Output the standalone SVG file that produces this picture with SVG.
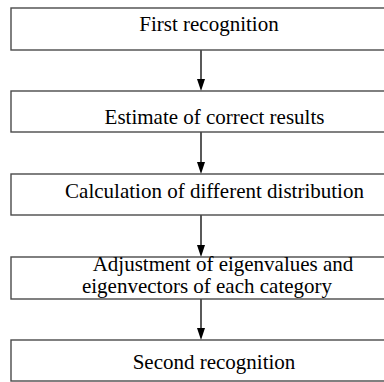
<svg xmlns="http://www.w3.org/2000/svg" width="384" height="382" viewBox="0 0 384 382">
<defs>
<style>
.box{fill:#fff;stroke:#4a4a4a;stroke-width:1.4}
.t{font-family:"Liberation Serif","Times New Roman",serif;font-size:21px;fill:#000;text-anchor:middle}
.c{stroke:#000;stroke-width:1.3;fill:none}
</style>
<marker id="ah" markerWidth="8" markerHeight="12" refX="4" refY="12" orient="auto-start-reverse" markerUnits="userSpaceOnUse" viewBox="0 0 8 12">
<path d="M0,0 L8,0 L4,12 Z" fill="#000" transform="rotate(0)"/>
</marker>
</defs>
<rect width="384" height="382" fill="#fff"/>
<g id="connectors">
<line class="c" x1="201" y1="50" x2="201" y2="79"/><path d="M197,79 L205,79 L201,91 Z" fill="#000"/>
<line class="c" x1="201" y1="132" x2="201" y2="162"/><path d="M197,162 L205,162 L201,174 Z" fill="#000"/>
<line class="c" x1="201" y1="215" x2="201" y2="245"/><path d="M197,245 L205,245 L201,257 Z" fill="#000"/>
<line class="c" x1="201" y1="299" x2="201" y2="328"/><path d="M197,328 L205,328 L201,340 Z" fill="#000"/>
</g>
<g id="n1"><rect class="box" x="11" y="8" width="380" height="42"/><text class="t" x="209" y="31">First recognition</text></g>
<g id="n2"><rect class="box" x="11" y="91" width="380" height="41"/><text class="t" x="214.5" y="124">Estimate of correct results</text></g>
<g id="n3"><rect class="box" x="11" y="174" width="380" height="41"/><text class="t" x="214.5" y="198">Calculation of different distribution</text></g>
<g id="n4"><rect class="box" x="11" y="257" width="380" height="42"/><text class="t" x="223" y="271">Adjustment of eigenvalues and</text><text class="t" x="207" y="293">eigenvectors of each category</text></g>
<g id="n5"><rect class="box" x="11" y="340" width="380" height="41"/><text class="t" x="214" y="369">Second recognition</text></g>
</svg>
